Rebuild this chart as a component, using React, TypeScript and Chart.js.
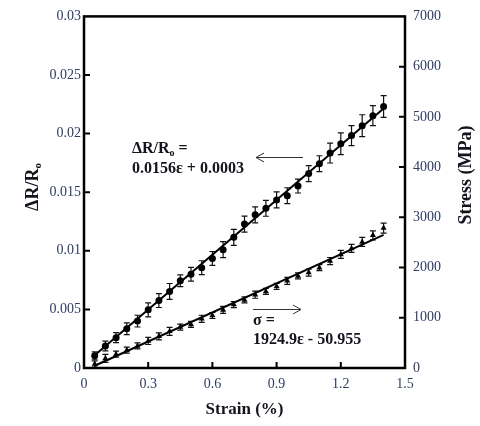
import React, { useEffect, useRef } from "react";
import { Chart, registerables } from "chart.js";

Chart.register(...registerables);

// ---------- data ----------
const strain = [
  0.05, 0.1, 0.15, 0.2, 0.25, 0.3, 0.35, 0.4, 0.45, 0.5, 0.55, 0.6, 0.65, 0.7,
  0.75, 0.8, 0.85, 0.9, 0.95, 1.0, 1.05, 1.1, 1.15, 1.2, 1.25, 1.3, 1.35, 1.4,
];
const resistance = [
  0.00104, 0.00188, 0.00259, 0.00335, 0.004, 0.00496, 0.00575, 0.00653, 0.00744,
  0.008, 0.00856, 0.00935, 0.0101, 0.01115, 0.01228, 0.01307, 0.01363, 0.01434,
  0.0147, 0.01552, 0.01659, 0.01743, 0.01834, 0.01913, 0.01983, 0.02068, 0.02153,
  0.02231,
];
const resistanceErr = [
  0.00034, 0.00042, 0.00042, 0.0005, 0.0005, 0.00059, 0.00059, 0.00068, 0.0005,
  0.00059, 0.00059, 0.00059, 0.00068, 0.00068, 0.00068, 0.00068, 0.00068, 0.00068,
  0.00068, 0.00059, 0.00068, 0.00068, 0.00085, 0.00093, 0.00085, 0.00093, 0.00085,
  0.00093,
];
const stress = [
  79, 191, 276, 355, 440, 538, 631, 730, 814, 868, 980, 1045, 1157, 1262, 1355,
  1459, 1524, 1623, 1735, 1834, 1899, 1997, 2130, 2261, 2380, 2510, 2642, 2786,
];
const stressErr = [
  60, 80, 60, 60, 60, 70, 70, 80, 60, 60, 70, 60, 70, 60, 60, 70, 60, 60, 70, 60,
  70, 60, 70, 80, 80, 90, 90, 100,
];
const fitStrain = [0.05, 1.4];
const resistanceFit = [0.00108, 0.02214];
const stressFit = [45, 2650];

const xTicks = [0, 0.3, 0.6, 0.9, 1.2, 1.5];
const xTickLabels = ["0", "0.3", "0.6", "0.9", "1.2", "1.5"];
const yTicks = [0, 0.005, 0.01, 0.015, 0.02, 0.025, 0.03];
const yTickLabels = ["0", "0.005", "0.01", "0.015", "0.02", "0.025", "0.03"];
const y2Ticks = [0, 1000, 2000, 3000, 4000, 5000, 6000, 7000];
const y2TickLabels = ["0", "1000", "2000", "3000", "4000", "5000", "6000", "7000"];

const xTitle = "Strain (%)";
const y2Title = "Stress (MPa)";
const eq1a = "0.0156ε + 0.0003";
const eq2a = "σ =";
const eq2b = "1924.9ε - 50.955";

const SERIF = "'Liberation Serif', 'DejaVu Serif', serif";
const TICK_COLOR = "#2f3b63";
const TEXT_COLOR = "#14141e";

function drawSubText(ctx: CanvasRenderingContext2D, x: number, y: number, size: number) {
  ctx.font = `bold ${size}px ${SERIF}`;
  ctx.textBaseline = "middle";
  ctx.textAlign = "left";
  const main = "ΔR/R";
  ctx.fillText(main, x, y);
  const w = ctx.measureText(main).width;
  ctx.font = `bold ${Math.round(size * 0.6)}px ${SERIF}`;
  ctx.fillText("o", x + w, y + size * 0.3);
  return w + ctx.measureText("o").width;
}

const decorPlugin = {
  id: "decor",
  beforeDatasetsDraw(chart: any) {
    const ctx = chart.ctx as CanvasRenderingContext2D;
    const xs = chart.scales.x;
    ctx.save();
    ctx.strokeStyle = "#111";
    ctx.lineWidth = 1.2;
    const bars = [
      { vals: resistance, errs: resistanceErr, axis: "y" },
      { vals: stress, errs: stressErr, axis: "y2" },
    ];
    for (const b of bars) {
      const ys = chart.scales[b.axis];
      strain.forEach((s, i) => {
        const px = xs.getPixelForValue(s);
        const top = ys.getPixelForValue(b.vals[i] + b.errs[i]);
        const bot = ys.getPixelForValue(b.vals[i] - b.errs[i]);
        ctx.beginPath();
        ctx.moveTo(px, top);
        ctx.lineTo(px, bot);
        ctx.moveTo(px - 3, top);
        ctx.lineTo(px + 3, top);
        ctx.moveTo(px - 3, bot);
        ctx.lineTo(px + 3, bot);
        ctx.stroke();
      });
    }
    ctx.restore();
  },
  afterDraw(chart: any) {
    const ctx = chart.ctx as CanvasRenderingContext2D;
    const { left, right, top, bottom } = chart.chartArea;
    const xs = chart.scales.x;
    const ys = chart.scales.y;
    const y2 = chart.scales.y2;
    ctx.save();
    ctx.strokeStyle = "#000";
    ctx.lineWidth = 2.5;
    ctx.strokeRect(left, top, right - left, bottom - top);
    ctx.lineWidth = 2;
    ctx.beginPath();
    xTicks.slice(1, -1).forEach((v) => {
      const p = xs.getPixelForValue(v);
      ctx.moveTo(p, bottom);
      ctx.lineTo(p, bottom - 6);
    });
    yTicks.slice(1, -1).forEach((v) => {
      const p = ys.getPixelForValue(v);
      ctx.moveTo(left, p);
      ctx.lineTo(left + 6, p);
    });
    y2Ticks.slice(1, -1).forEach((v) => {
      const p = y2.getPixelForValue(v);
      ctx.moveTo(right, p);
      ctx.lineTo(right - 6, p);
    });
    ctx.stroke();

    ctx.fillStyle = TEXT_COLOR;
    ctx.font = `bold 17px ${SERIF}`;
    ctx.textAlign = "center";
    ctx.textBaseline = "middle";
    ctx.fillText(xTitle, (left + right) / 2, 410);

    ctx.save();
    ctx.translate(33, 187);
    ctx.rotate(-Math.PI / 2);
    ctx.font = `bold 18px ${SERIF}`;
    const wMain = ctx.measureText("ΔR/R").width;
    ctx.font = `bold 11px ${SERIF}`;
    const wSub = ctx.measureText("o").width;
    drawSubText(ctx, -(wMain + wSub) / 2, 0, 18);
    ctx.restore();

    ctx.save();
    ctx.translate(466, 175);
    ctx.rotate(-Math.PI / 2);
    ctx.font = `bold 18px ${SERIF}`;
    ctx.textAlign = "center";
    ctx.textBaseline = "middle";
    ctx.fillText(y2Title, 0, 0);
    ctx.restore();

    ctx.fillStyle = TEXT_COLOR;
    const w = drawSubText(ctx, 132, 149, 16);
    ctx.font = `bold 16px ${SERIF}`;
    ctx.textAlign = "left";
    ctx.textBaseline = "middle";
    ctx.fillText(" =", 132 + w, 149);
    ctx.fillText(eq1a, 132, 169);
    ctx.fillText(eq2a, 253, 321);
    ctx.fillText(eq2b, 253, 340);

    ctx.strokeStyle = "#333";
    ctx.lineWidth = 1;
    ctx.beginPath();
    ctx.moveTo(303, 157.5);
    ctx.lineTo(256, 157.5);
    ctx.moveTo(264, 153);
    ctx.lineTo(256, 157.5);
    ctx.lineTo(264, 162);
    ctx.moveTo(253, 309.5);
    ctx.lineTo(301, 309.5);
    ctx.moveTo(293, 305);
    ctx.lineTo(301, 309.5);
    ctx.lineTo(293, 314);
    ctx.stroke();
    ctx.restore();
  },
};

export default function App() {
  const ref = useRef<HTMLCanvasElement | null>(null);
  useEffect(() => {
    if (!ref.current) return;
    const tickFont = { family: SERIF, size: 14 };
    const chart = new Chart(ref.current, {
      type: "scatter",
      data: {
        datasets: [
          {
            label: "ΔR/R0",
            data: strain.map((s, i) => ({ x: s, y: resistance[i] })),
            yAxisID: "y",
            showLine: false,
            pointStyle: "circle",
            pointRadius: 3.5,
            backgroundColor: "#000",
            borderColor: "#000",
            borderWidth: 0,
          },
          {
            label: "Stress",
            data: strain.map((s, i) => ({ x: s, y: stress[i] })),
            yAxisID: "y2",
            showLine: false,
            pointStyle: "triangle",
            pointRadius: 3.5,
            backgroundColor: "#000",
            borderColor: "#000",
            borderWidth: 0,
          },
          {
            label: "fit1",
            data: fitStrain.map((s, i) => ({ x: s, y: resistanceFit[i] })),
            yAxisID: "y",
            showLine: true,
            pointRadius: 0,
            borderColor: "#000",
            borderWidth: 2,
          },
          {
            label: "fit2",
            data: fitStrain.map((s, i) => ({ x: s, y: stressFit[i] })),
            yAxisID: "y2",
            showLine: true,
            pointRadius: 0,
            borderColor: "#000",
            borderWidth: 2,
          },
        ],
      },
      options: {
        animation: false,
        responsive: false,
        layout: { padding: { top: 13, left: 0, right: 0, bottom: 0 } },
        plugins: { legend: { display: false }, tooltip: { enabled: false } },
        scales: {
          x: {
            type: "linear",
            min: 0,
            max: 1.5,
            afterBuildTicks: (s: any) => {
              s.ticks = xTicks.map((v) => ({ value: v }));
            },
            afterFit: (s: any) => {
              s.height = 58;
            },
            ticks: {
              font: tickFont,
              color: TICK_COLOR,
              padding: 8,
              maxRotation: 0,
              callback: (v: any) => xTickLabels[xTicks.indexOf(Number(v))] ?? "",
            },
            grid: { display: false, drawTicks: false },
            border: { display: false },
          },
          y: {
            type: "linear",
            position: "left",
            min: 0,
            max: 0.03,
            afterBuildTicks: (s: any) => {
              s.ticks = yTicks.map((v) => ({ value: v }));
            },
            afterFit: (s: any) => {
              s.width = 84;
            },
            ticks: {
              font: tickFont,
              color: TICK_COLOR,
              padding: 3,
              callback: (v: any) => {
                const i = yTicks.findIndex((t) => Math.abs(t - Number(v)) < 1e-9);
                return i >= 0 ? yTickLabels[i] : "";
              },
            },
            grid: { display: false, drawTicks: false },
            border: { display: false },
          },
          y2: {
            type: "linear",
            position: "right",
            min: 0,
            max: 7000,
            afterBuildTicks: (s: any) => {
              s.ticks = y2Ticks.map((v) => ({ value: v }));
            },
            afterFit: (s: any) => {
              s.width = 75;
            },
            ticks: {
              font: tickFont,
              color: TICK_COLOR,
              padding: 8,
              callback: (v: any) => y2TickLabels[y2Ticks.indexOf(Number(v))] ?? "",
            },
            grid: { display: false, drawTicks: false },
            border: { display: false },
          },
        },
      },
      plugins: [decorPlugin],
    } as any);
    return () => chart.destroy();
  }, []);
  return (
    <div style={{ position: "absolute", left: 0, top: 0, width: 480, height: 426, background: "#fff" }}>
      <canvas ref={ref} width={480} height={426} style={{ width: 480, height: 426 }} />
    </div>
  );
}
